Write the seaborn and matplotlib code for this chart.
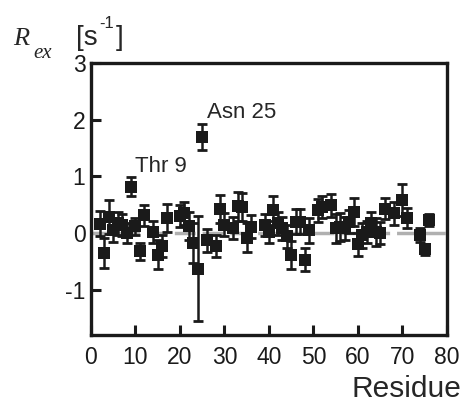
import numpy as np
import pandas as pd
import matplotlib
matplotlib.use("Agg")
import matplotlib.pyplot as plt
import seaborn as sns

residues = [2, 3, 4, 5, 6, 7, 8, 9, 10, 11, 12, 14, 15, 16, 17, 20, 21, 22, 23, 24, 25, 26,
            28, 29, 30, 32, 33, 34, 35, 36, 39, 40, 41, 42, 43, 44, 45, 46, 47, 48, 49,
            51, 52, 54, 55, 56, 57, 58, 59, 60, 61, 62, 63, 64, 65, 66, 68, 70, 71, 74, 75, 76]
rex = [0.16, -0.35, 0.29, 0.05, 0.17, 0.14, 0.00, 0.82, 0.12, -0.32, 0.31, 0.02, -0.38, -0.23,
       0.26, 0.30, 0.35, 0.12, -0.18, -0.63, 1.70, -0.13,
       -0.23, 0.42, 0.15, 0.09, 0.47, 0.46, -0.08, 0.11, 0.14, 0.02, 0.40, 0.17, 0.08, -0.06,
       -0.39, 0.20, 0.20, -0.47, 0.05,
       0.40, 0.46, 0.49, 0.08, 0.11, 0.08, 0.20, 0.37, -0.20, -0.04, 0.02, 0.17, 0.02, 0.00,
       0.43, 0.35, 0.58, 0.26, -0.04, -0.29, 0.23]
err = [0.22, 0.26, 0.30, 0.20, 0.20, 0.20, 0.18, 0.16, 0.15, 0.15, 0.18, 0.20, 0.25, 0.20,
       0.25, 0.20, 0.20, 0.25, 0.35, 0.93, 0.23, 0.20,
       0.20, 0.25, 0.20, 0.20, 0.25, 0.25, 0.25, 0.20, 0.20, 0.20, 0.25, 0.20, 0.20, 0.20,
       0.25, 0.22, 0.22, 0.20, 0.22,
       0.20, 0.20, 0.20, 0.25, 0.25, 0.20, 0.20, 0.25, 0.20, 0.22, 0.20, 0.20, 0.25, 0.20,
       0.18, 0.20, 0.28, 0.18, 0.12, 0.10, 0.10]
xticks = [0, 10, 20, 30, 40, 50, 60, 70, 80]
yticks = [-1, 0, 1, 2, 3]

df = pd.DataFrame({"Residue": residues, "Rex": rex, "err": err})

sns.set_style("ticks")
plt.rcParams["font.family"] = ["Liberation Sans", "DejaVu Sans"]
plt.rcParams["axes.unicode_minus"] = False

fig = plt.figure(figsize=(4.63, 4.04), dpi=100)
ax = fig.add_axes([0.1965, 0.1708, 0.7689, 0.6732])

ax.axhline(0, color="#b0b0b0", lw=2.5, ls=(0, (6, 2)), zorder=1)
ax.errorbar(df["Residue"], df["Rex"], yerr=df["err"], fmt="none", ecolor="#1a1a1a",
            elinewidth=1.8, capsize=3.5, capthick=2.0, zorder=2)
sns.scatterplot(data=df, x="Residue", y="Rex", marker="s", s=70, color="#1a1a1a",
                edgecolor="#1a1a1a", linewidth=0, ax=ax, zorder=3, legend=False)

ax.set_xlim(0, 80)
ax.set_ylim(-1.8, 3)
ax.set_xticks(xticks)
ax.set_yticks(yticks)
ax.set_xlabel("")
ax.set_ylabel("")
ax.tick_params(direction="in", length=7, width=2.2, labelsize=16.5,
               top=False, right=False, colors="#1a1a1a")
ax.tick_params(axis="y", pad=4)
ax.tick_params(axis="x", pad=8)
for s in ax.spines.values():
    s.set_linewidth(2.4)
    s.set_color("#1a1a1a")

ax.text(10.0, 1.07, "Thr 9", fontsize=16, ha="left", va="baseline")
ax.text(26.0, 2.03, "Asn 25", fontsize=16, ha="left", va="baseline")

W, H = 463, 404
fig.text(13 / W, 1 - 45 / H, "R", family="Liberation Serif", style="italic", fontsize=19,
         ha="left", va="baseline")
fig.text(33 / W, 1 - 58 / H, "ex", family="Liberation Serif", style="italic", fontsize=15,
         ha="left", va="baseline")
fig.text(76 / W, 1 - 45 / H, "[s", fontsize=20, ha="left", va="baseline")
fig.text(99 / W, 1 - 28 / H, "-1", fontsize=12, ha="left", va="baseline")
fig.text(116 / W, 1 - 45 / H, "]", fontsize=20, ha="left", va="baseline")
fig.text(461 / W, 1 - 397 / H, "Residue", fontsize=21.5, ha="right", va="baseline")

fig.savefig("out.png", dpi=100)
